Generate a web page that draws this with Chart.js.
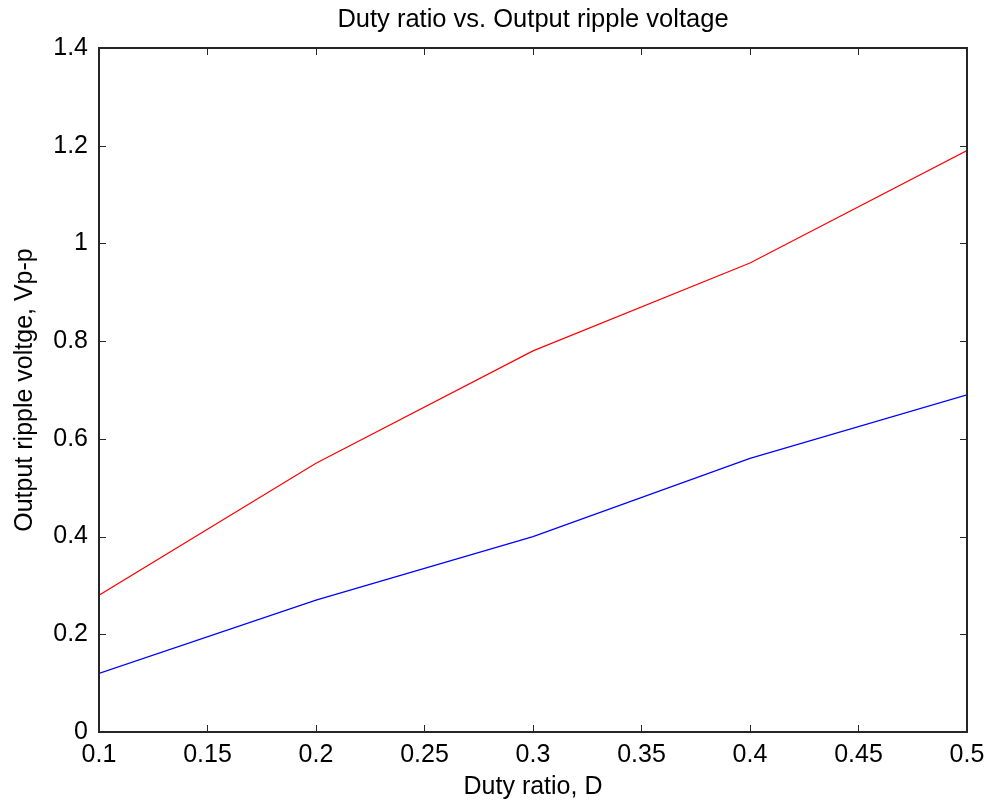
<!DOCTYPE html>
<html>
<head>
<meta charset="utf-8">
<title>Duty ratio vs. Output ripple voltage</title>
<script src="https://cdn.jsdelivr.net/npm/chart.js@4.4.1/dist/chart.umd.min.js"></script>
<style>
  html, body { margin: 0; padding: 0; background: #fff; }
  canvas { display: block; }
</style>
</head>
<body>
<canvas id="rippleChart" width="989" height="806"></canvas>
<script>
// duty ratio D and measured peak-to-peak ripple for the two test cases
const dutyRatio = [0.1, 0.2, 0.3, 0.4, 0.5];
const rippleRed = [0.28, 0.55, 0.78, 0.96, 1.19];
const rippleBlue = [0.12, 0.27, 0.40, 0.56, 0.69];

const xTicks = [0.1, 0.15, 0.2, 0.25, 0.3, 0.35, 0.4, 0.45, 0.5];
const yTicks = [0, 0.2, 0.4, 0.6, 0.8, 1, 1.2, 1.4];

const chartTitle = 'Duty ratio vs. Output ripple voltage';

const FONT = 'Liberation Sans, Arial, Helvetica, sans-serif';
const FONT_SIZE = 25;

function toPoints(xs, ys) {
    return xs.map((x, i) => ({ x: x, y: ys[i] }));
}

// matlab style box with tick marks pointing inward on all four sides,
// title centred over the plot box rather than the whole canvas
const boxTicks = {
    id: 'boxTicks',
    afterDraw(chart) {
        const ctx = chart.ctx;
        const area = chart.chartArea;
        const xs = chart.scales.x;
        const ys = chart.scales.y;
        const len = 7;
        ctx.save();
        ctx.strokeStyle = '#262626';
        ctx.lineWidth = 1;
        ctx.beginPath();
        xs.ticks.forEach(t => {
            const px = Math.round(xs.getPixelForValue(t.value)) + 0.5;
            ctx.moveTo(px, area.bottom);
            ctx.lineTo(px, area.bottom - len);
            ctx.moveTo(px, area.top);
            ctx.lineTo(px, area.top + len);
        });
        ys.ticks.forEach(t => {
            const py = Math.round(ys.getPixelForValue(t.value)) + 0.5;
            ctx.moveTo(area.left, py);
            ctx.lineTo(area.left + len, py);
            ctx.moveTo(area.right, py);
            ctx.lineTo(area.right - len, py);
        });
        ctx.stroke();
        ctx.lineWidth = 2;
        ctx.strokeRect(Math.round(area.left), Math.round(area.top),
            Math.round(area.right - area.left), Math.round(area.bottom - area.top));

        ctx.fillStyle = '#000';
        ctx.font = '25.5px ' + FONT;
        ctx.textAlign = 'center';
        ctx.textBaseline = 'middle';
        ctx.fillText(chartTitle, (area.left + area.right) / 2, 20);
        ctx.restore();
    }
};

const whiteBg = {
    id: 'whiteBg',
    beforeDraw(chart) {
        const ctx = chart.ctx;
        ctx.save();
        ctx.fillStyle = '#fff';
        ctx.fillRect(0, 0, chart.width, chart.height);
        ctx.restore();
    }
};

const ctx = document.getElementById('rippleChart').getContext('2d');
const myChart = new Chart(ctx, {
    type: 'line',
    data: {
        datasets: [{
            label: 'Case 1',
            data: toPoints(dutyRatio, rippleRed),
            borderColor: '#ff0000',
            borderWidth: 1.2,
            pointRadius: 0,
            tension: 0,
            fill: false
        }, {
            label: 'Case 2',
            data: toPoints(dutyRatio, rippleBlue),
            borderColor: '#0000ff',
            borderWidth: 1.2,
            pointRadius: 0,
            tension: 0,
            fill: false
        }]
    },
    options: {
        responsive: false,
        animation: false,
        devicePixelRatio: 1,
        layout: { padding: { top: 48, left: 0, right: 22, bottom: 0 } },
        plugins: {
            legend: { display: false },
            tooltip: { enabled: false },
            title: { display: false }
        },
        scales: {
            x: {
                type: 'linear',
                min: 0.1,
                max: 0.5,
                grid: { display: false, drawTicks: false },
                border: { display: false },
                afterBuildTicks: s => { s.ticks = xTicks.map(v => ({ value: v })); },
                afterFit: s => {
                    s.height = 74;
                    s.paddingLeft = 0;
                    s.paddingRight = 0;
                },
                ticks: {
                    color: '#000',
                    padding: 8,
                    maxRotation: 0,
                    autoSkip: false,
                    font: { family: FONT, size: FONT_SIZE },
                    callback: v => String(v)
                },
                title: {
                    display: true,
                    text: 'Duty ratio, D',
                    color: '#000',
                    font: { family: FONT, size: FONT_SIZE },
                    padding: { top: 0, bottom: 4 }
                }
            },
            y: {
                type: 'linear',
                min: 0,
                max: 1.4,
                grid: { display: false, drawTicks: false },
                border: { display: false },
                afterBuildTicks: s => { s.ticks = yTicks.map(v => ({ value: v })); },
                afterFit: s => {
                    s.width = 99;
                    s.paddingTop = 0;
                    s.paddingBottom = 0;
                },
                ticks: {
                    color: '#000',
                    padding: 11,
                    autoSkip: false,
                    font: { family: FONT, size: FONT_SIZE },
                    callback: v => String(v)
                },
                title: {
                    display: true,
                    text: 'Output ripple voltge, Vp-p',
                    color: '#000',
                    font: { family: FONT, size: FONT_SIZE },
                    padding: { top: 10, bottom: 0 }
                }
            }
        }
    },
    plugins: [whiteBg, boxTicks]
});
</script>
</body>
</html>
